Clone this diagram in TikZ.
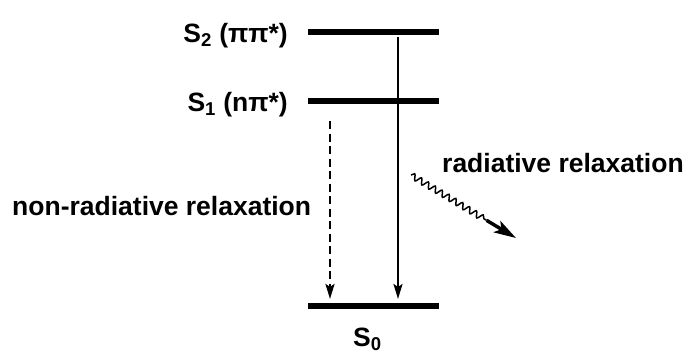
\documentclass[tikz,border=0pt]{standalone}
\usepackage{fontspec}
\setmainfont{Liberation Sans}
\usetikzlibrary{arrows.meta,decorations.pathmorphing,calc}
\begin{document}
\begin{tikzpicture}[x=1pt,y=-1pt,
  lbl/.style={font=\fontsize{26.5}{30}\selectfont\bfseries, inner sep=0pt},
  level/.style={line width=6pt},
  trans/.style={line width=2.2pt,-{Stealth[length=15pt,width=9pt,inset=3pt]}}]
\useasboundingbox (0,0) rectangle (688,354);
% levels
\coordinate (s2l) at (308,32); \coordinate (s2r) at (439,32);
\coordinate (s1l) at (308,101); \coordinate (s1r) at (439,101);
\coordinate (s0l) at (308,305.5); \coordinate (s0r) at (439,305.5);
\draw[level] (s2l) -- (s2r);
\draw[level] (s1l) -- (s1r);
\draw[level] (s0l) -- (s0r);
% labels
\node[lbl, anchor=base east] (t2) at (288,42) {S\textsubscript{2} (ππ*)};
\node[lbl, anchor=base east] (t1) at (288,111) {S\textsubscript{1} (nπ*)};
\node[lbl, anchor=base west] (t0) at (353,346) {S\textsubscript{0}};
\node[lbl, anchor=base west] (tn) at (12,215) {non-radiative relaxation};
\node[lbl, anchor=base west] (tr) at (442,172) {radiative relaxation};
% transitions
\coordinate (a1) at (398,37); \coordinate (a2) at (398,299);
\draw[trans] (a1) -- (a2);
\coordinate (b1) at (330,121); \coordinate (b2) at (330,299);
\draw[trans, line width=2.6pt, dash pattern=on 8pt off 4.5pt] (b1) -- (b2);
% wavy
\coordinate (w1) at (411,175); \coordinate (w2) at (516,238);
\coordinate (w3) at ($(w1)!0.72!(w2)$);
\draw[line width=1.5pt, decorate, decoration={snake, amplitude=3pt, segment length=8pt}] (w1) -- (w3);
\draw[line width=3.5pt, -{Stealth[length=22pt,width=13pt,inset=5pt]}] (w3) -- (w2);
\end{tikzpicture}
\end{document}
